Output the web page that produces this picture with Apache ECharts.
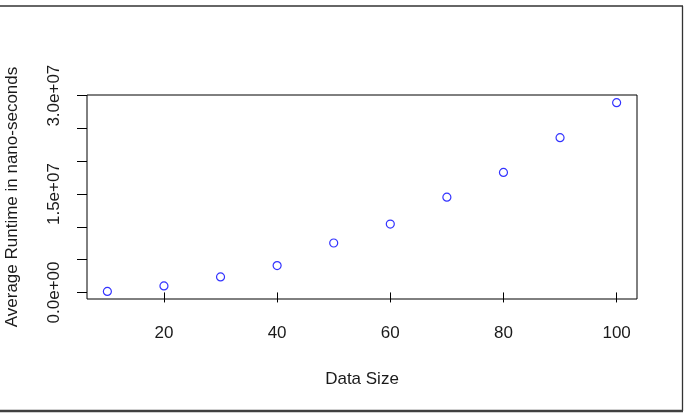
<!DOCTYPE html>
<html>
<head>
<meta charset="utf-8">
<script src="https://cdn.jsdelivr.net/npm/echarts@6/dist/echarts.min.js"></script>
<style>
  html, body { margin: 0; padding: 0; background: #fff; }
  #chart { width: 688px; height: 418px; }
</style>
</head>
<body>
<div id="chart"></div>
<script>
  // values
  var dataSize = [10, 20, 30, 40, 50, 60, 70, 80, 90, 100]
  var avgRuntime = [0.15e6, 1.0e6, 2.37e6, 4.1e6, 7.54e6, 10.43e6, 14.53e6, 18.29e6, 23.6e6, 28.93e6]
  var xTicks = [20, 40, 60, 80, 100]
  var yTicks = [0, 5e6, 1e7, 1.5e7, 2e7, 2.5e7, 3e7]
  var yLabels = [0, 1.5e7, 3e7]

  function sci(v) {
    if (v === 0) return '0.0e+00'
    var e = Math.floor(Math.log10(Math.abs(v)))
    var m = v / Math.pow(10, e)
    return m.toFixed(1) + 'e' + (e < 0 ? '-' : '+') + (Math.abs(e) < 10 ? '0' : '') + Math.abs(e)
  }

  var font = 'Liberation Sans, Arial, sans-serif'
  var chart = echarts.init(document.getElementById('chart'))

  chart.setOption({
    backgroundColor: '#fff',
    animation: false,
    grid: {
      left: 87,
      top: 95,
      width: 550,
      height: 204,
      outerBoundsMode: 'none',
      containLabel: false,
      show: true,
      borderColor: '#000',
      borderWidth: 1,
      backgroundColor: 'transparent'
    },
    xAxis: {
      type: 'value',
      min: 6.4,
      max: 103.6,
      name: 'Data Size',
      nameLocation: 'middle',
      nameGap: 72,
      nameTextStyle: { fontFamily: font, fontSize: 17, color: '#1a1a1a' },
      axisLine: { show: false },
      splitLine: { show: false },
      axisTick: {
        show: true,
        length: 10,
        customValues: xTicks,
        lineStyle: { color: '#000', width: 1 }
      },
      axisLabel: {
        customValues: xTicks,
        margin: 26,
        fontFamily: font,
        fontSize: 17,
        color: '#1a1a1a'
      }
    },
    yAxis: {
      type: 'value',
      min: -1.0e6,
      max: 30.1e6,
      name: 'Average Runtime in nano-seconds',
      nameLocation: 'middle',
      nameRotate: 90,
      nameGap: 66,
      nameTextStyle: { fontFamily: font, fontSize: 17, color: '#1a1a1a' },
      axisLine: { show: false },
      splitLine: { show: false },
      axisTick: {
        show: true,
        length: 10,
        customValues: yTicks,
        lineStyle: { color: '#000', width: 1 }
      },
      axisLabel: {
        customValues: yLabels,
        rotate: 90,
        margin: 24,
        fontFamily: font,
        fontSize: 17,
        color: '#1a1a1a',
        formatter: function (v) { return sci(v) }
      }
    },
    series: [{
      type: 'scatter',
      symbol: 'circle',
      symbolSize: 8,
      itemStyle: { color: '#fff', borderColor: '#0000ff', borderWidth: 1.2 },
      data: dataSize.map(function (x, i) { return [x, avgRuntime[i]] })
    }],
    graphic: [
      { type: 'line', shape: { x1: 0, y1: 6, x2: 683, y2: 6 }, style: { stroke: '#333', lineWidth: 1.3 } },
      { type: 'line', shape: { x1: 682.5, y1: 6, x2: 682.5, y2: 411 }, style: { stroke: '#333', lineWidth: 1.3 } },
      { type: 'line', shape: { x1: 0, y1: 411, x2: 683, y2: 411 }, style: { stroke: '#404040', lineWidth: 2.4 } }
    ]
  })
</script>
</body>
</html>
